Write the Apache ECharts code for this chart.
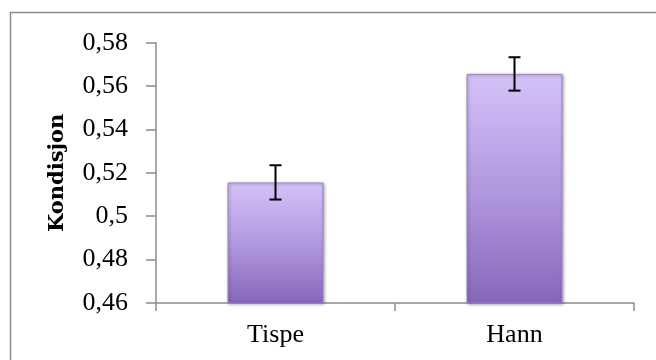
<!DOCTYPE html>
<html>
<head>
<meta charset="utf-8">
<script src="https://cdn.jsdelivr.net/npm/echarts@6/dist/echarts.min.js"></script>
<style>
html,body{margin:0;padding:0;background:#fff;}
#chart{width:656px;height:360px;}
</style>
</head>
<body>
<div id="chart"></div>
<script>
var categories = ['Tispe', 'Hann'];
var means = [0.5156, 0.5656];
var errors = [0.0079, 0.0077];
var yTickMin = 0.46, yTickMax = 0.58, yTickStep = 0.02;

var chart = echarts.init(document.getElementById('chart'), null, {renderer: 'canvas'});
var serif = '"Liberation Serif", "Times New Roman", serif';
var titleFont = '"DejaVu Serif", serif';

var errData = categories.map(function (c, i) { return [i, means[i] - errors[i], means[i] + errors[i]]; });

chart.setOption({
  animation: false,
  backgroundColor: '#ffffff',
  graphic: [{
    type: 'rect',
    shape: {x: 10.5, y: 12.5, width: 700, height: 400},
    style: {fill: 'none', stroke: '#8c8c8c', lineWidth: 1.5},
    z: -1
  }],
  grid: {left: 156, right: 22, top: 42.7, bottom: 57, containLabel: false},
  xAxis: {
    type: 'category',
    data: categories,
    axisLine: {lineStyle: {color: '#8c8c8c', width: 1.5}},
    axisTick: {show: true, length: 8, alignWithLabel: false, lineStyle: {color: '#8c8c8c', width: 1.5}},
    axisLabel: {color: '#000', fontFamily: serif, fontSize: 26, margin: 19}
  },
  yAxis: {
    type: 'value',
    min: yTickMin, max: yTickMax, interval: yTickStep,
    name: 'Kondisjon',
    nameLocation: 'middle',
    nameGap: 88,
    nameTextStyle: {color: '#000', fontFamily: titleFont, fontSize: 21, fontWeight: 'bold'},
    axisLine: {show: true, lineStyle: {color: '#8c8c8c', width: 1.5}},
    axisTick: {show: true, length: 10, inside: false, lineStyle: {color: '#8c8c8c', width: 1.5}},
    splitLine: {show: false},
    axisLabel: {
      color: '#000', fontFamily: serif, fontSize: 26, margin: 28,
      formatter: function (v) { return String(+v.toFixed(2)).replace('.', ','); }
    }
  },
  series: [{
    type: 'bar',
    data: means,
    barWidth: 96,
    itemStyle: {
      color: new echarts.graphic.LinearGradient(0, 0, 0, 1, [
        {offset: 0, color: '#d4c2f7'},
        {offset: 0.15, color: '#cbb5f2'},
        {offset: 0.55, color: '#ae94dc'},
        {offset: 1, color: '#8766ba'}
      ]),
      borderColor: '#9b87c6',
      borderWidth: 1,
      shadowColor: 'rgba(0,0,0,0.35)',
      shadowBlur: 3,
      shadowOffsetX: 1,
      shadowOffsetY: 1
    }
  }, {
    type: 'custom',
    data: errData,
    z: 10,
    renderItem: function (params, api) {
      var x = api.value(0);
      var lo = api.coord([x, api.value(1)]);
      var hi = api.coord([x, api.value(2)]);
      var hw = 6;
      var st = {stroke: '#000', lineWidth: 2};
      return {type: 'group', children: [
        {type: 'line', shape: {x1: lo[0], y1: lo[1], x2: hi[0], y2: hi[1]}, style: st},
        {type: 'line', shape: {x1: lo[0] - hw, y1: lo[1], x2: lo[0] + hw, y2: lo[1]}, style: st},
        {type: 'line', shape: {x1: hi[0] - hw, y1: hi[1], x2: hi[0] + hw, y2: hi[1]}, style: st}
      ]};
    }
  }]
});
</script>
</body>
</html>
